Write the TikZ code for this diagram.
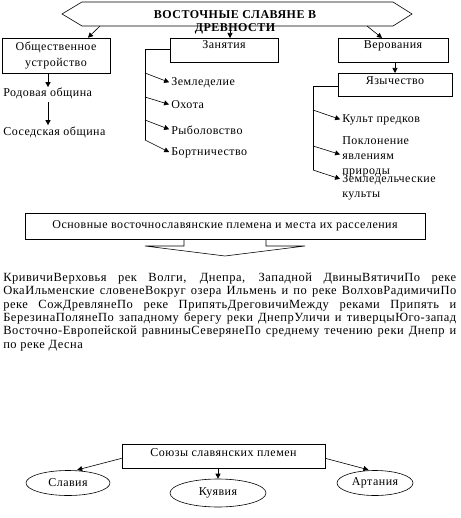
\documentclass[tikz,border=0pt]{standalone}
\usepackage{fontspec}
\setmainfont{Liberation Serif}[LetterSpace=4]
\usetikzlibrary{arrows.meta,shapes.geometric}
\begin{document}
\begin{tikzpicture}[x=1pt,y=-1pt,line width=0.6pt,
  every node/.style={font=\fontsize{12}{14}\selectfont},
  box/.style={draw, rectangle, inner sep=0pt, align=center},
  lbl/.style={anchor=west, inner sep=0pt, align=left},
  arr/.style={-{Triangle[length=5pt,width=5pt]}},
  oval/.style={draw, ellipse, inner sep=0pt}]
\useasboundingbox (0,0) rectangle (460,518);
% title hexagon
\draw (62,14) -- (82,2) -- (393,2) -- (412,14) -- (393,26) -- (82,26) -- cycle;
\node[font=\bfseries\fontsize{12}{13}\selectfont, align=center, inner sep=0pt] (title) at (235,22) {ВОСТОЧНЫЕ СЛАВЯНЕ В\\ДРЕВНОСТИ};
\coordinate (hl) at (100,26);
\coordinate (hm) at (230,26);
\coordinate (hr) at (367,26);
% top boxes
\node[box, minimum width=108pt, minimum height=35pt, font=\fontsize{12}{16}\selectfont] (obsh) at (56,55.5) {Общественное\\устройство};
\node[box, minimum width=108pt, anchor=north, text height=10pt, text depth=14pt] (zan) at (224,38) {Занятия};
\node[box, minimum width=110pt, anchor=north, text height=10pt, text depth=14pt] (ver) at (393,38) {Верования};
\node[box, minimum width=114pt, anchor=north, text height=11.5pt, text depth=12pt] (yaz) at (395,73) {Язычество};
\draw[arr] (hl) -- ([xshift=32pt]obsh.north);
\draw[arr] (hm) -- (hm |- zan.north);
\draw[arr] (hr) -- ([xshift=-11pt]ver.north);
% left column
\coordinate (x48) at (48,0);
\node[lbl] (rod) at (3,93) {Родовая община};
\node[lbl] (sos) at (3,132) {Соседская община};
\draw[arr] (obsh.south -| x48) -- (rod.north -| x48);
\draw[arr] ([yshift=-3pt]rod.south -| x48) -- ([yshift=1pt]sos.north -| x48);
% occupations
\coordinate (zt) at (145,49);
\coordinate (b1) at (145,73);
\coordinate (b2) at (145,97);
\coordinate (b3) at (145,120);
\coordinate (b4) at (145,140);
\node[lbl] (zem) at (171,83) {Земледелие};
\node[lbl] (oh) at (171,105) {Охота};
\node[lbl] (ryb) at (171,130) {Рыболовство};
\node[lbl] (bort) at (171,153) {Бортничество};
\draw (zan.west |- zt) -- (zt) -- (b4);
\draw[arr, shorten >=2pt] (b1) -- (zem.west);
\draw[arr, shorten >=2pt] (b2) -- (oh.west);
\draw[arr, shorten >=2pt] (b3) -- (ryb.west);
\draw[arr, shorten >=2pt] (b4) -- (bort.west);
% beliefs
\draw[arr] (ver.south -| yaz.north) -- (yaz.north);
\coordinate (yt) at (313,86);
\coordinate (c1) at (313,110);
\coordinate (c2) at (313,146);
\coordinate (c3) at (313,170);
\node[lbl] (kult) at (342,120) {Культ предков};
\node[lbl, font=\fontsize{12}{15}\selectfont] (pokl) at (342,156.5) {Поклонение\\явлениям\\природы};
\node[lbl, font=\fontsize{12}{15}\selectfont] (zk) at (342,187) {Земледельческие\\культы};
\draw (yaz.west |- yt) -- (yt) -- (c3);
\draw[arr, shorten >=2pt] (c1) -- (kult.west);
\draw[arr, shorten >=2pt] (c2) -- ([yshift=1.5pt]pokl.west);
\draw[arr, shorten >=2pt] (c3) -- ([yshift=7.5pt]zk.west);
% tribes
\node[box, minimum width=400pt, minimum height=26pt] (osn) at (225,226) {Основные восточнославянские племена и места их расселения};
\coordinate (p1) at (184,246);
\coordinate (p2) at (145,246);
\coordinate (p3) at (225,256);
\coordinate (p4) at (305,246);
\coordinate (p5) at (266,246);
\draw (osn.south -| p1) -- (p1) -- (p2) -- (p3) -- (p4) -- (p5) -- (osn.south -| p5);
\node[anchor=north west, inner sep=0pt, text width=453pt, align=justify, font=\fontsize{12.5}{13.4}\selectfont] (tribes) at (3,272.5) {%
КривичиВерховья рек Волги, Днепра, Западной ДвиныВятичиПо реке\linebreak
ОкаИльменские словенеВокруг озера Ильмень и по реке ВолховРадимичиПо\linebreak
реке СожДревлянеПо реке ПрипятьДреговичиМежду реками Припять и\linebreak
БерезинаПолянеПо западному берегу реки ДнепрУличи и тиверцыЮго-запад\linebreak
Восточно-Европейской равниныСеверянеПо среднему течению реки Днепр и\linebreak
по реке Десна};
% unions
\node[box, minimum width=203pt, anchor=north, text height=12pt, text depth=12pt] (soy) at (223.5,444) {Союзы славянских племен};
\node[oval, minimum width=84pt, minimum height=25pt] (slav) at (68,483) {Славия};
\node[oval, minimum width=96pt, minimum height=28pt] (kuv) at (218,493) {Куявия};
\node[oval, minimum width=76pt, minimum height=25pt] (art) at (375,483) {Артания};
\draw[arr, shorten >=2pt] ([yshift=-2pt]soy.west) -- (slav.60);
\draw[arr] (kuv.north |- soy.south) -- (kuv.north);
\draw[arr, shorten >=2pt] ([yshift=-2pt]soy.east) -- (art.110);
\end{tikzpicture}
\end{document}
